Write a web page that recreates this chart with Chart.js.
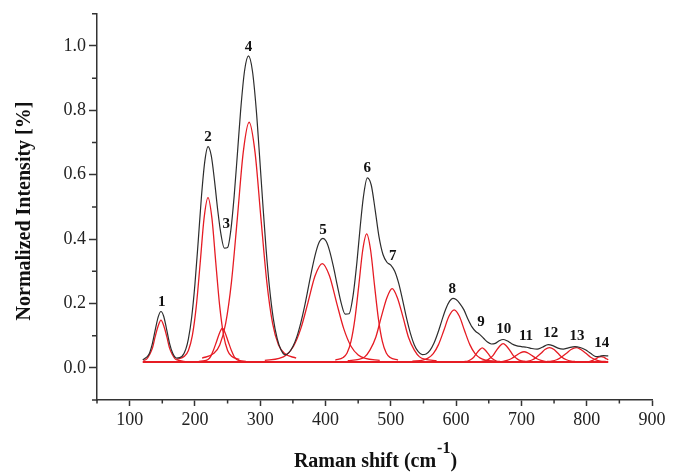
<!DOCTYPE html>
<html>
<head>
<meta charset="utf-8">
<title>Raman spectrum - band fit</title>
<script src="https://cdn.jsdelivr.net/npm/chart.js"></script>
<style>
    html, body { margin: 0; padding: 0; background: #ffffff; }
    #ramanChart { display: block; }
</style>
</head>
<body>
<canvas id="ramanChart" width="674" height="475"></canvas>
<script>
// axis ticks
var xTicks = [100, 200, 300, 400, 500, 600, 700, 800, 900];
var xMinorTicks = [50, 150, 250, 350, 450, 550, 650, 750, 850];
var yTicks = [0, 0.2, 0.4, 0.6, 0.8, 1.0];
var yTickLabels = ["0.0", "0.2", "0.4", "0.6", "0.8", "1.0"];
var yMinorTicks = [-0.1, 0.1, 0.3, 0.5, 0.7, 0.9, 1.1];

// measured spectrum (black)
var measuredX = [120, 126, 130, 135, 140, 144, 148, 152, 156, 161, 166, 172, 180, 186, 190, 195, 200, 205, 210, 215,
    220, 225, 230, 235, 240, 245, 250, 255, 260, 265, 270, 276, 282, 288, 294, 299, 304, 309, 314, 320,
    326, 332, 338, 344, 350, 356, 362, 368, 374, 380, 386, 391, 396, 401, 406, 412, 418, 424, 430, 436,
    442, 448, 453, 458, 464, 470, 476, 482, 488, 494, 500, 506, 512, 518, 524, 530, 536, 542, 548, 554,
    560, 566, 572, 578, 584, 590, 595, 600, 606, 612, 618, 624, 630, 636, 642, 648, 654, 660, 666, 672,
    678, 685, 692, 700, 708, 716, 724, 732, 741, 748, 756, 764, 772, 782, 790, 798, 806, 814, 820, 826, 833];
var measuredY = [0.025, 0.033, 0.044, 0.077, 0.126, 0.160, 0.175, 0.161, 0.126, 0.077, 0.045, 0.030, 0.035, 0.058, 0.090, 0.157, 0.260, 0.393, 0.533, 0.640,
    0.687, 0.659, 0.581, 0.488, 0.413, 0.372, 0.374, 0.428, 0.532, 0.664, 0.800, 0.923, 0.969, 0.923, 0.800, 0.657, 0.508, 0.368, 0.253, 0.153,
    0.091, 0.055, 0.040, 0.047, 0.066, 0.096, 0.139, 0.192, 0.253, 0.314, 0.365, 0.393, 0.402, 0.393, 0.365, 0.315, 0.256, 0.201, 0.167, 0.168,
    0.222, 0.327, 0.436, 0.531, 0.590, 0.568, 0.491, 0.406, 0.352, 0.328, 0.319, 0.300, 0.263, 0.211, 0.155, 0.107, 0.071, 0.050, 0.041, 0.043,
    0.054, 0.076, 0.108, 0.146, 0.182, 0.207, 0.216, 0.212, 0.199, 0.180, 0.152, 0.128, 0.113, 0.104, 0.092, 0.080, 0.074, 0.076, 0.084, 0.088,
    0.084, 0.075, 0.069, 0.066, 0.064, 0.060, 0.058, 0.064, 0.072, 0.069, 0.061, 0.058, 0.062, 0.066, 0.063, 0.056, 0.045, 0.035, 0.036, 0.038, 0.037];

// fitted bands (red), [shift, intensity]
var band1 = [[121, 0.023], [126, 0.027], [130, 0.039], [135, 0.062], [139, 0.096], [144, 0.132], [148, 0.148], [152, 0.132], [157, 0.096], [161, 0.062], [166, 0.039], [170, 0.027], [175, 0.023], [184, 0.020]];
var band2 = [[172, 0.026], [184, 0.036], [190, 0.054], [196, 0.100], [202, 0.190], [208, 0.325], [214, 0.465], [220, 0.529], [226, 0.465], [232, 0.325], [238, 0.190], [244, 0.100], [250, 0.054], [256, 0.036], [268, 0.026]];
var band3 = [[206, 0.020], [215, 0.022], [220, 0.026], [224, 0.035], [228, 0.053], [233, 0.081], [238, 0.110], [242, 0.123], [246, 0.110], [251, 0.081], [256, 0.053], [260, 0.035], [264, 0.026], [269, 0.022], [278, 0.020]];
var band4 = [[211, 0.030], [229, 0.045], [238, 0.071], [247, 0.137], [256, 0.268], [265, 0.466], [274, 0.670], [283, 0.763], [292, 0.670], [301, 0.466], [310, 0.268], [319, 0.137], [328, 0.071], [337, 0.045], [355, 0.030]];
var band5 = [[307, 0.023], [329, 0.029], [340, 0.040], [351, 0.067], [362, 0.121], [373, 0.202], [384, 0.286], [395, 0.324], [406, 0.286], [417, 0.202], [428, 0.121], [439, 0.067], [450, 0.040], [461, 0.029], [483, 0.023]];
var band6 = [[415, 0.024], [427, 0.032], [433, 0.046], [439, 0.082], [445, 0.152], [451, 0.257], [457, 0.366], [463, 0.416], [469, 0.366], [475, 0.257], [481, 0.152], [487, 0.082], [493, 0.046], [499, 0.032], [511, 0.024]];
var band7 = [[434, 0.022], [451, 0.026], [460, 0.034], [468, 0.055], [477, 0.095], [485, 0.155], [494, 0.218], [502, 0.246], [510, 0.218], [519, 0.155], [527, 0.095], [536, 0.055], [544, 0.034], [553, 0.026], [570, 0.022]];
var band8 = [[533, 0.021], [549, 0.024], [557, 0.030], [565, 0.044], [573, 0.072], [581, 0.115], [589, 0.160], [597, 0.180], [605, 0.160], [613, 0.115], [621, 0.072], [629, 0.044], [637, 0.030], [645, 0.024], [661, 0.021]];
var band9 = [[613, 0.020], [618, 0.021], [622, 0.025], [627, 0.033], [631, 0.044], [636, 0.056], [640, 0.062], [644, 0.056], [649, 0.044], [653, 0.033], [658, 0.025], [662, 0.021], [667, 0.020]];
var band10 = [[639, 0.020], [645, 0.022], [650, 0.027], [656, 0.037], [661, 0.052], [667, 0.068], [672, 0.075], [677, 0.068], [683, 0.052], [688, 0.037], [694, 0.027], [699, 0.022], [705, 0.020]];
var band11 = [[665, 0.019], [672, 0.020], [678, 0.023], [685, 0.029], [691, 0.037], [698, 0.046], [704, 0.050], [710, 0.046], [717, 0.037], [723, 0.029], [730, 0.023], [736, 0.020], [743, 0.019]];
var band12 = [[704, 0.020], [710, 0.021], [717, 0.025], [723, 0.033], [730, 0.045], [736, 0.057], [743, 0.063], [750, 0.057], [756, 0.045], [762, 0.033], [769, 0.025], [776, 0.021], [782, 0.020]];
var band13 = [[739, 0.020], [746, 0.021], [754, 0.025], [761, 0.033], [769, 0.045], [776, 0.057], [784, 0.063], [791, 0.057], [799, 0.045], [806, 0.033], [814, 0.025], [821, 0.021], [829, 0.020]];
var band14 = [[798, 0.019], [802, 0.019], [806, 0.021], [810, 0.024], [814, 0.028], [818, 0.033], [822, 0.035], [826, 0.033], [830, 0.028], [833, 0.025]];
var fitBaseline = [[120, 0.018], [833, 0.018]];

// band numbers, placed above each peak
var bandLabels = ["1", "2", "3", "4", "5", "6", "7", "8", "9", "10", "11", "12", "13", "14"];
var bandLabelX = [149, 220, 248, 282, 396, 464, 503, 594, 638, 673, 707, 745, 785, 823];
var bandLabelY = [0.204, 0.718, 0.446, 0.998, 0.428, 0.620, 0.346, 0.245, 0.142, 0.120, 0.099, 0.109, 0.097, 0.077];

var axisColor = "#333333";
var fitColor = "rgb(230, 28, 36)";
var serif = '"Liberation Serif", "Times New Roman", serif';

function toPoints(pairs) {
    return pairs.map(function (p) { return { x: p[0], y: p[1] }; });
}

var datasets = [{
    label: "measured",
    data: measuredX.map(function (v, i) { return { x: v, y: measuredY[i] }; }),
    borderColor: "#2d2d2d",
    borderWidth: 1.2,
    pointRadius: 0,
    cubicInterpolationMode: "monotone",
    fill: false
}];

[band1, band2, band3, band4, band5, band6, band7, band8, band9, band10, band11, band12, band13, band14].forEach(function (band, i) {
    datasets.push({
        label: "band " + (i + 1),
        data: toPoints(band),
        borderColor: fitColor,
        borderWidth: 1.3,
        pointRadius: 0,
        cubicInterpolationMode: "monotone",
        fill: false
    });
});

datasets.push({
    label: "baseline",
    data: toPoints(fitBaseline),
    borderColor: fitColor,
    borderWidth: 2.2,
    pointRadius: 0,
    fill: false
});

// minor ticks, titles and band numbers
var decorations = {
    id: "decorations",
    afterDraw: function (chart) {
        var ctx = chart.ctx;
        var area = chart.chartArea;
        var xs = chart.scales.x;
        var ys = chart.scales.y;
        ctx.save();

        ctx.strokeStyle = axisColor;
        ctx.lineWidth = 1.5;
        ctx.beginPath();
        xMinorTicks.forEach(function (v) {
            var px = xs.getPixelForValue(v);
            ctx.moveTo(px, area.bottom);
            ctx.lineTo(px, area.bottom + 3.5);
        });
        yMinorTicks.forEach(function (v) {
            var py = ys.getPixelForValue(v);
            ctx.moveTo(area.left, py);
            ctx.lineTo(area.left - 5, py);
        });
        ctx.stroke();

        ctx.fillStyle = "#111111";
        ctx.font = "bold 15px " + serif;
        ctx.textAlign = "center";
        ctx.textBaseline = "middle";
        bandLabels.forEach(function (txt, i) {
            ctx.fillText(txt, xs.getPixelForValue(bandLabelX[i]), ys.getPixelForValue(bandLabelY[i]));
        });

        // x title with superscript
        var main = "Raman shift (cm";
        var sup = "-1";
        var close = ")";
        ctx.textBaseline = "alphabetic";
        ctx.textAlign = "left";
        ctx.font = "bold 20px " + serif;
        var w1 = ctx.measureText(main).width;
        var w3 = ctx.measureText(close).width;
        ctx.font = "bold 16px " + serif;
        var w2 = ctx.measureText(sup).width;
        var start = 375 - (w1 + w2 + w3) / 2;
        ctx.font = "bold 20px " + serif;
        ctx.fillText(main, start, 467);
        ctx.fillText(close, start + w1 + w2 + 1, 467);
        ctx.font = "bold 16px " + serif;
        ctx.fillText(sup, start + w1 + 1, 453);

        // y title
        ctx.translate(25, 211);
        ctx.rotate(-Math.PI / 2);
        ctx.textAlign = "center";
        ctx.textBaseline = "middle";
        ctx.font = "bold 20px " + serif;
        ctx.fillText("Normalized Intensity [%]", 0, 0);

        ctx.restore();
    }
};

var ctx = document.getElementById("ramanChart").getContext("2d");
new Chart(ctx, {
    type: "line",
    data: { datasets: datasets },
    plugins: [decorations],
    options: {
        responsive: false,
        animation: false,
        layout: { padding: { top: 10, right: 22, left: 0, bottom: 0 } },
        plugins: {
            legend: { display: false },
            tooltip: { enabled: false }
        },
        scales: {
            x: {
                type: "linear",
                min: 50,
                max: 900,
                afterBuildTicks: function (scale) {
                    scale.ticks = xTicks.map(function (v) { return { value: v }; });
                },
                afterFit: function (scale) { scale.height = 75; },
                ticks: {
                    autoSkip: false,
                    maxRotation: 0,
                    padding: 3,
                    color: "#222222",
                    font: { family: serif, size: 18 },
                    callback: function (value) { return String(value); }
                },
                grid: {
                    drawOnChartArea: false,
                    drawTicks: true,
                    tickLength: 6,
                    tickWidth: 1.5,
                    tickColor: axisColor
                },
                border: { display: true, color: axisColor, width: 1.5 }
            },
            y: {
                type: "linear",
                min: -0.1,
                max: 1.1,
                afterBuildTicks: function (scale) {
                    scale.ticks = yTicks.map(function (v) { return { value: v }; });
                },
                afterFit: function (scale) { scale.width = 97; },
                ticks: {
                    autoSkip: false,
                    padding: 3,
                    color: "#222222",
                    font: { family: serif, size: 18 },
                    callback: function (value, index) { return yTickLabels[index]; }
                },
                grid: {
                    drawOnChartArea: false,
                    drawTicks: true,
                    tickLength: 8,
                    tickWidth: 1.5,
                    tickColor: axisColor
                },
                border: { display: true, color: axisColor, width: 1.5 }
            }
        }
    }
});
</script>
</body>
</html>
